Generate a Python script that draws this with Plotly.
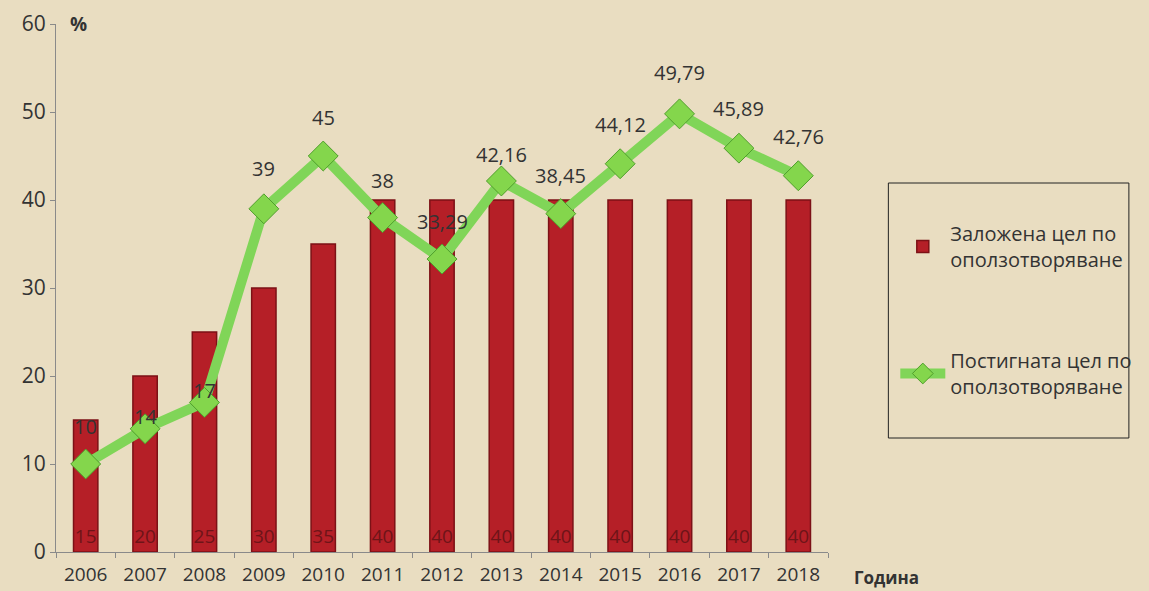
import plotly.graph_objects as go

years = ["2006", "2007", "2008", "2009", "2010", "2011", "2012",
         "2013", "2014", "2015", "2016", "2017", "2018"]
target = [15, 20, 25, 30, 35, 40, 40, 40, 40, 40, 40, 40, 40]
achieved = [10, 14, 17, 39, 45, 38, 33.29, 42.16, 38.45, 44.12, 49.79, 45.89, 42.76]

targetName = "Заложена цел по<br>оползотворяване"
achievedName = "Постигната цел по<br>оползотворяване"

# pixel offset of each value label above its marker
labelShift = [38, 12, 12, 40, 39, 37, 38, 26, 38, 39, 41, 40, 39]

FONT = "Open Sans"
TEXT = "#333333"

# plot area in pixels
PL, PR, PT, PB = 56, 836, 24, 552
PW, PH = PR - PL, PB - PT


def px2x(p: float) -> float:
    return (p - PL) / PW


def px2y(p: float) -> float:
    return (PB - p) / PH


def fmt(v: float) -> str:
    return f"{v:g}".replace(".", ",")


fig = go.Figure()

fig.add_trace(go.Bar(
    x=years, y=target, name=targetName,
    width=0.41,
    marker=dict(color="#b51f27", line=dict(color="#7c1116", width=1.5)),
    text=[fmt(v) for v in target],
    textposition="inside", insidetextanchor="start", constraintext="none",
    textfont=dict(family=FONT, size=19, color="#6e1418"),
    legendgroup="a",
))

fig.add_trace(go.Scatter(
    x=years, y=achieved, name=achievedName,
    mode="lines+markers",
    line=dict(color="#80d558", width=10),
    marker=dict(symbol="diamond", size=23, color="#84d64c",
                line=dict(color="#4f9e2c", width=1)),
    legendgroup="b",
))

# category axis: place labels by index so "2006" is not read as a number
for i, (v, s) in enumerate(zip(achieved, labelShift)):
    fig.add_annotation(
        x=i, y=v, text=fmt(v), showarrow=False, yshift=s,
        font=dict(family=FONT, size=20, color=TEXT),
    )

fig.add_annotation(
    xref="paper", yref="paper", x=px2x(68), y=1.0, text="<b>%</b>",
    showarrow=False, xanchor="left", yanchor="middle",
    font=dict(family=FONT, size=19, color=TEXT),
)
fig.add_annotation(
    xref="paper", yref="paper", x=px2x(860), y=px2y(577),
    text="<b>Година</b>",
    showarrow=False, xanchor="left", yanchor="middle",
    font=dict(family=FONT, size=17, color=TEXT),
)

# legend frame
fig.add_shape(
    type="rect", xref="paper", yref="paper",
    x0=px2x(897), x1=px2x(1140), y0=px2y(438), y1=px2y(183),
    line=dict(color="#222222", width=1), fillcolor="rgba(0,0,0,0)",
)

fig.update_layout(
    width=1149, height=591,
    margin=dict(l=PL, r=1149 - PR, t=PT, b=591 - PB),
    paper_bgcolor="#e9ddc1",
    plot_bgcolor="#e9ddc1",
    font=dict(family=FONT, color=TEXT),
    showlegend=True,
    legend=dict(
        x=px2x(904), y=px2y(214),
        xanchor="left", yanchor="top",
        bgcolor="rgba(0,0,0,0)", borderwidth=0,
        font=dict(family=FONT, size=20, color=TEXT),
        tracegroupgap=72, itemwidth=45,
    ),
    xaxis=dict(
        type="category", range=[-0.5, 12.5], automargin=False,
        showline=True, linecolor="#8a8a8a", linewidth=1,
        ticks="outside", tickson="boundaries", ticklen=5, tickcolor="#8a8a8a",
        showgrid=False, ticklabelstandoff=5,
        tickfont=dict(family=FONT, size=19, color=TEXT),
    ),
    yaxis=dict(
        range=[0, 60], dtick=10, automargin=False,
        showline=True, linecolor="#8a8a8a", linewidth=1,
        ticks="outside", ticklen=5, tickcolor="#8a8a8a",
        showgrid=False, zeroline=False,
        tickfont=dict(family=FONT, size=21, color=TEXT),
    ),
)

fig.write_html("out.html", config={"displayModeBar": False},
               post_script="document.body.style.margin='0';")
